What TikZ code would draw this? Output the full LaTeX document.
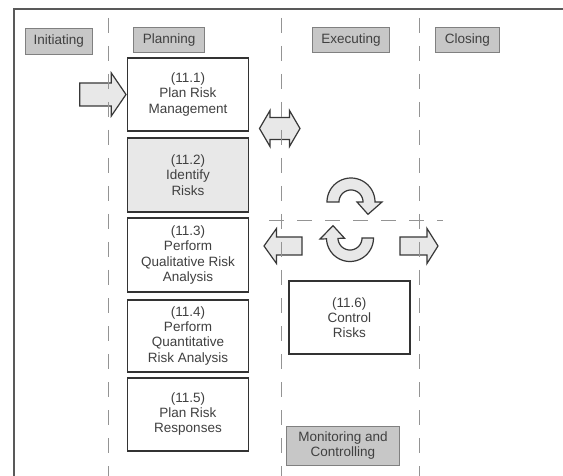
\documentclass[tikz,border=0pt]{standalone}
\usepackage{fontspec}
\setmainfont{Liberation Sans}
\usetikzlibrary{calc}
\begin{document}
\begin{tikzpicture}[x=1pt,y=-1pt,
  txt/.style={text=black!75,font=\fontsize{13.5}{15.3}\selectfont,align=center,inner sep=0pt},
  hdr/.style={txt,draw=black!50,fill=black!22,line width=0.9pt,anchor=center},
  proc/.style={txt,draw=black!80,line width=1.8pt,fill=white,minimum width=121pt,anchor=center},
  blockarrow/.style={draw=black!78,fill=black!9,line width=1.2pt},
  lane/.style={draw=black!42,line width=1pt,dash pattern=on 15pt off 13pt}]
\useasboundingbox (0,0) rectangle (563,476);
\clip (0,0) rectangle (563,476);
\fill[white] (0,0) rectangle (563,476);
% outer frame
\draw[draw=black!65,line width=2pt] (13.6,9.3) rectangle (620,540);
% phase headers
\node[hdr,minimum width=67.6pt,minimum height=26pt] (init) at (58.8,41.3) {Initiating};
\node[hdr,minimum width=71pt,minimum height=24.6pt] (plan) at (169.2,40) {Planning};
\node[hdr,minimum width=77pt,minimum height=24.6pt] (exec) at (351,40) {Executing};
\node[hdr,minimum width=63.5pt,minimum height=24.6pt] (clos) at (467.3,40) {Closing};
% processes
\node[proc,minimum height=72.4pt] (b1) at (188,94.5) {(11.1)\\Plan Risk\\Management};
\node[proc,minimum height=73.4pt,fill=black!9] (b2) at (188,175) {(11.2)\\Identify\\Risks};
\node[proc,minimum height=73.4pt] (b3) at (188,255) {(11.3)\\Perform\\Qualitative Risk\\Analysis};
\node[proc,minimum height=71.7pt] (b4) at (188,335.8) {(11.4)\\Perform\\Quantitative\\Risk Analysis};
\node[proc,minimum height=73pt] (b5) at (188,414.2) {(11.5)\\Plan Risk\\Responses};
\node[proc,minimum height=73pt] (b6) at (349.3,317.5) {(11.6)\\Control\\Risks};
\node[hdr,minimum width=113pt,minimum height=39pt] (mon) at (343,445.5) {Monitoring and\\Controlling};
% block arrows
\draw[blockarrow] (79.7,83) -- (111.3,83) -- (111.3,73) -- (126,94.5) -- (111.3,116) -- (111.3,106) -- (79.7,106) -- cycle;
\draw[blockarrow] (259.5,128.5) -- (270,110.5) -- (270,117.5) -- (289.5,117.5) -- (289.5,110.5) -- (300,128.5) -- (289.5,146.5) -- (289.5,139.5) -- (270,139.5) -- (270,146.5) -- cycle;
\draw[blockarrow] (264,246) -- (276.5,228.5) -- (276.5,237) -- (302,237) -- (302,255) -- (276.5,255) -- (276.5,263.5) -- cycle;
\draw[blockarrow] (438,246) -- (427,228.5) -- (427,237) -- (400,237) -- (400,255) -- (427,255) -- (427,263.5) -- cycle;
% circular arrows
\coordinate (cu) at (351,202);
\coordinate (cl) at (350,238);
\draw[blockarrow] plot[domain=180:360,samples=40] ({351+24*cos(\x)},{202+24*sin(\x)})
  -- ($(cu)+(0:31)$) -- ($(cu)+(36:21)$) -- ($(cu)+(0:6)$)
  -- plot[domain=360:180,samples=40] ({351+12*cos(\x)},{202+12*sin(\x)}) -- cycle;
\draw[blockarrow] plot[domain=0:178,samples=40] ({350+23.5*cos(\x)},{238+23.5*sin(\x)})
  -- ($(cl)+(178:30)$) -- ($(cl)+(216:21)$) -- ($(cl)+(178:5.5)$)
  -- plot[domain=178:0,samples=40] ({350+12*cos(\x)},{238+12*sin(\x)}) -- cycle;
% swimlane separators
\coordinate (l1t) at (108.4,18); \coordinate (l1b) at (108.4,476);
\coordinate (l2t) at (281,18);   \coordinate (l2b) at (281,476);
\coordinate (l3t) at (419.4,18); \coordinate (l3b) at (419.4,476);
\coordinate (hl) at (269,220.7); \coordinate (hr) at (443,220.7);
\draw[lane] (l1t) -- (l1b);
\draw[lane] (l2t) -- (l2b);
\draw[lane] (l3t) -- (l3b);
\draw[lane] (hl) -- (hr);
\end{tikzpicture}
\end{document}
